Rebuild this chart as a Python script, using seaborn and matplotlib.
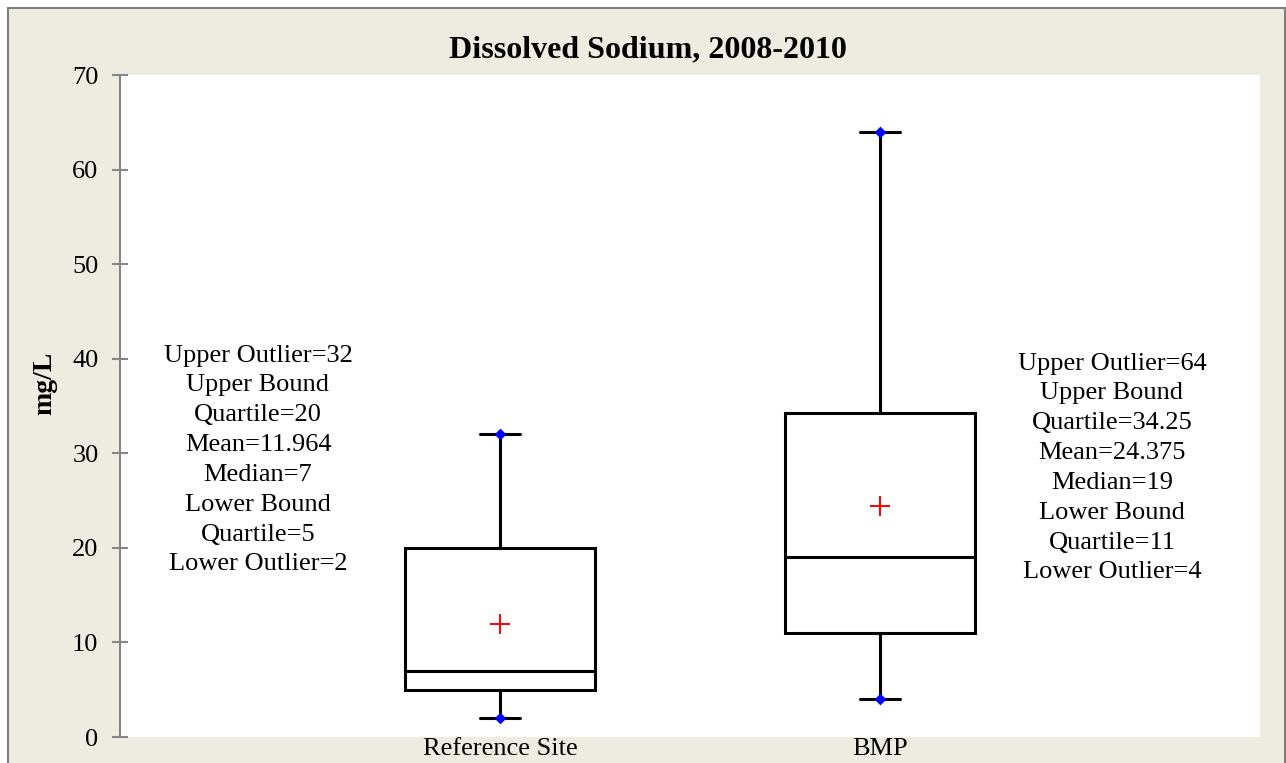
import pandas as pd
import matplotlib.pyplot as plt
import matplotlib.patches as mpatches
import seaborn as sns

sites = ["Reference Site", "BMP"]
lower_outlier = [2, 4]
lower_quartile = [5, 11]
median = [7, 19]
upper_quartile = [20, 34.25]
upper_outlier = [32, 64]
mean = [11.964, 24.375]
mean_text = ["11.964", "24.375"]

# five-number summary per site -> long table for sns.boxplot
rows = []
for i, s in enumerate(sites):
    for v in (lower_outlier[i], lower_quartile[i], median[i], upper_quartile[i], upper_outlier[i]):
        rows.append({"site": s, "value": v})
df = pd.DataFrame(rows)

sns.set_theme(style="white")
plt.rcParams['font.family'] = ['Liberation Serif', 'DejaVu Serif']
plt.rcParams['text.color'] = 'black'

BG = "#EEEBE0"
GRAY = "#868686"

fig = plt.figure(figsize=(12.86, 7.63), dpi=100, facecolor="white")
fig.patches.append(mpatches.Rectangle((8/1286, -0.05), (1285-8)/1286, 1 + 0.05 - 8/763,
                                      transform=fig.transFigure, facecolor=BG,
                                      edgecolor="#7f7f7f", linewidth=1.5, zorder=-5))
ax = fig.add_axes([120/1286, 1 - 737/763, (1260-120)/1286, (737-75)/763])
ax.set_facecolor("white")

sns.boxplot(data=df, x="site", y="value", order=sites, width=0.5, color="white",
            linecolor="black", linewidth=2.2, whis=1.5, capwidths=0.105, ax=ax)
sns.stripplot(x=sites + sites, y=lower_outlier + upper_outlier, order=sites, jitter=False,
              marker="D", color="blue", size=6, linewidth=0, zorder=5, ax=ax)
sns.stripplot(x=sites, y=mean, order=sites, jitter=False, marker="+", color="red",
              size=14, linewidth=1.4, zorder=5, ax=ax)

ax.set_xlim(-1, 2)
ax.set_ylim(0, 70)
ax.set_yticks(range(0, 71, 10))
ax.set_xlabel("")
ax.set_ylabel("mg/L", fontsize=20, fontweight="bold", y=0.535, labelpad=11, color="black")
for side in ["top", "right", "bottom"]:
    ax.spines[side].set_visible(False)
ax.spines["left"].set_color(GRAY)
ax.spines["left"].set_linewidth(1.5)
ax.tick_params(axis="y", direction="inout", length=11, width=1.5, color=GRAY,
               labelsize=19, labelcolor="black", pad=10, left=True)
ax.tick_params(axis="x", length=0, labelsize=19, labelcolor="black", pad=1)

fig.text(648/1286, 1 - 50/763, "Dissolved Sodium, 2008-2010", ha="center", va="center",
         fontsize=23, fontweight="bold")

for i, cx, cy in [(0, 258, 460), (1, 1112, 468)]:
    txt = "\n".join([
        f"Upper Outlier={upper_outlier[i]:g}",
        "Upper Bound",
        f"Quartile={upper_quartile[i]:g}",
        f"Mean={mean_text[i]}",
        f"Median={median[i]:g}",
        "Lower Bound",
        f"Quartile={lower_quartile[i]:g}",
        f"Lower Outlier={lower_outlier[i]:g}",
    ])
    fig.text(cx/1286, 1 - cy/763, txt, ha="center", va="center", fontsize=19,
             linespacing=1.46, multialignment="center")

plt.savefig("out.png", dpi=100, facecolor=fig.get_facecolor())
